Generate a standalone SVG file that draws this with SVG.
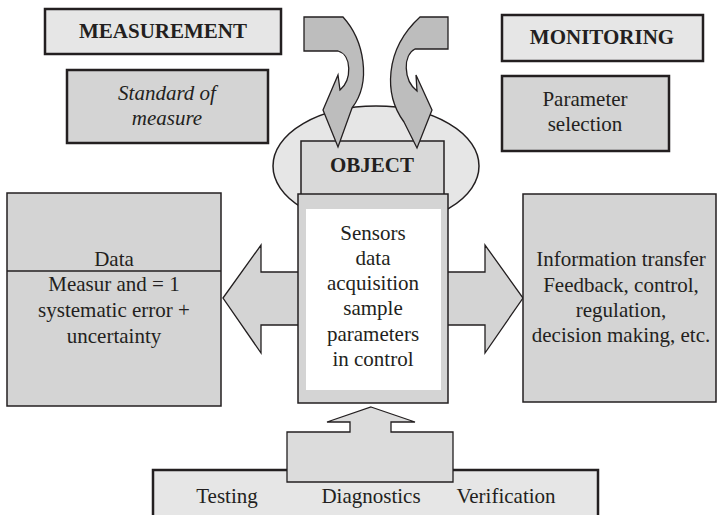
<svg xmlns="http://www.w3.org/2000/svg" width="718" height="515" viewBox="0 0 718 515">
<style>
text{font-family:'Liberation Serif','Times New Roman','DejaVu Serif',serif;font-size:21px;fill:#231f20;text-anchor:middle}
.b{font-weight:bold}
.i{font-style:italic}
.light{fill:#e6e6e6;stroke:#231f20;stroke-width:1.5}
.mid{fill:#d4d4d4;stroke:#231f20;stroke-width:1.5}
.thick{stroke-width:2.5}
.curve{fill:#bdbdbd;stroke:#231f20;stroke-width:1.3;stroke-linejoin:miter}
.flat{fill:#d4d4d4;stroke:#231f20;stroke-width:1.3}
.vert{fill:#dcdcdc;stroke:#231f20;stroke-width:1.3}
</style>
<rect width="718" height="515" fill="#fff"/>
<g id="measurement">
<rect class="light thick" x="45" y="9" width="236" height="45"/>
<text class="b" x="163" y="38" font-family="Liberation Serif">MEASUREMENT</text>
</g>
<g id="standard">
<rect class="mid thick" x="67" y="70" width="201" height="73"/>
<text class="i" x="167" y="100">Standard of</text>
<text class="i" x="167" y="125">measure</text>
</g>
<g id="monitoring">
<rect class="light thick" x="502" y="15" width="201" height="46"/>
<text class="b" x="602" y="44">MONITORING</text>
</g>
<g id="parameter">
<rect class="mid thick" x="502" y="76" width="167" height="75"/>
<text x="585" y="106">Parameter</text>
<text x="585" y="131">selection</text>
</g>
<g id="bottom">
<rect class="light" x="153" y="470" width="445" height="60" style="stroke-width:2.5"/>
<text x="227" y="503">Testing</text>
<text x="371" y="503">Diagnostics</text>
<text x="506" y="503">Verification</text>
</g>
<g id="object">
<ellipse class="light" cx="376" cy="166" rx="103" ry="60"/>
<rect class="mid" x="301" y="141" width="143" height="60" style="fill:#d9d9d9"/>
<text class="b" x="372" y="172">OBJECT</text>
</g>
<g id="connectors">
<path class="curve" d="M304,17 L343,17 C364,40 372,82 352,108 L338,147 L323,110 L338,75 L340,90 C352,80 352,55 338,51 L304,51 Z"/>
<path class="curve" d="M448,17 L448,49 L415,49 C403,55 403,80 417,91 L416,75 L432,110 L417,148 L404,122 C384,95 384,50 420,17 Z"/>
<path class="flat" d="M223,298 L261,245 L261,272 L485,272 L485,245 L523,298 L485,353 L485,325 L261,325 L261,353 Z"/>
<path class="vert" d="M371,407 L415,422 L391,422 L391,432 L453,432 L453,482 L287,482 L287,432 L350,432 L350,422 L327,422 Z"/>
</g>
<g id="sensors">
<rect class="mid" x="298" y="194" width="150" height="209"/>
<rect x="306" y="209" width="135" height="181" fill="#fff"/>
<text x="373" y="240">Sensors</text>
<text x="373" y="265">data</text>
<text x="373" y="290">acquisition</text>
<text x="373" y="315">sample</text>
<text x="373" y="341">parameters</text>
<text x="373" y="366">in control</text>
</g>
<g id="data">
<rect class="mid" x="7" y="193" width="214" height="213"/>
<line x1="7" y1="271" x2="221" y2="271" stroke="#231f20" stroke-width="1.5"/>
<text x="114" y="266">Data</text>
<text x="114" y="291">Measur and = 1</text>
<text x="114" y="317">systematic error +</text>
<text x="114" y="343">uncertainty</text>
</g>
<g id="information">
<rect class="mid" x="523" y="194" width="193" height="208"/>
<text x="621" y="266">Information transfer</text>
<text x="621" y="292">Feedback, control,</text>
<text x="621" y="317">regulation,</text>
<text x="621" y="342">decision making, etc.</text>
</g>
</svg>
